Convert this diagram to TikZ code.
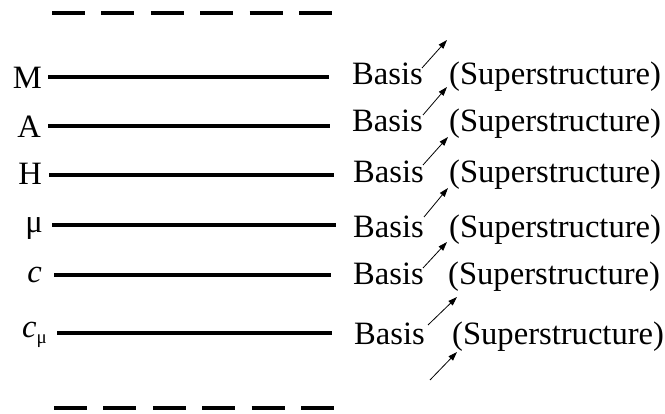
\documentclass[tikz,border=0pt]{standalone}
\usepackage{fontspec}
\setmainfont{Liberation Serif}
\usetikzlibrary{arrows.meta}
\tikzset{
  lvl/.style={line width=3.2pt},
  dsh/.style={line width=3.4pt, dash pattern=on 33pt off 16.4pt},
  txt/.style={inner sep=0pt, font=\fontsize{32.6}{36}\selectfont},
  lbl/.style={txt, anchor=base east},
  bas/.style={txt, anchor=base west},
  arr/.style={line width=0.8pt, -{Triangle[length=9pt,width=6pt]}}
}
\begin{document}
\begin{tikzpicture}[x=1pt,y=-1pt]
\useasboundingbox (0,0) rectangle (665,414);
% dashed lines
\coordinate (dt1) at (52,13); \coordinate (dt2) at (334,13);
\coordinate (db1) at (54,408); \coordinate (db2) at (336,408);
\draw[dsh] (dt1) -- (dt2);
\draw[dsh] (db1) -- (db2);
% labels
\node[lbl] (lM) at (42,89) {M};
\node[lbl] (lA) at (41,138) {A};
\node[lbl] (lH) at (42,185) {H};
\node[lbl] (lmu) at (43,233) {μ};
\node[lbl] (lc) at (42,283) {\textit{c}};
\node[lbl] (lcm) at (47,338) {\textit{c}\raisebox{-0.35ex}{\fontsize{19}{20}\selectfont μ}};
% level lines
\coordinate (eM) at (329,77);  \draw[lvl] (48,77) coordinate (sM) -- (eM);
\coordinate (eA) at (330,126); \draw[lvl] (48,126) coordinate (sA) -- (eA);
\coordinate (eH) at (334,175); \draw[lvl] (49,175) coordinate (sH) -- (eH);
\coordinate (emu) at (336,225); \draw[lvl] (52,225) coordinate (smu) -- (emu);
\coordinate (ec) at (331,275); \draw[lvl] (54,275) coordinate (sc) -- (ec);
\coordinate (ecm) at (332,333); \draw[lvl] (57,333) coordinate (scm) -- (ecm);
% Basis / Superstructure
\node[bas] (b1) at (352,85) {Basis};
\node[bas] (s1) at (449,85) {(Superstructure)};
\node[bas] (b2) at (352,132) {Basis};
\node[bas] (s2) at (449,132) {(Superstructure)};
\node[bas] (b3) at (353,183) {Basis};
\node[bas] (s3) at (449,183) {(Superstructure)};
\node[bas] (b4) at (353,238) {Basis};
\node[bas] (s4) at (449,238) {(Superstructure)};
\node[bas] (b5) at (353,285) {Basis};
\node[bas] (s5) at (448,285) {(Superstructure)};
\node[bas] (b6) at (354,345) {Basis};
\node[bas] (s6) at (452,345) {(Superstructure)};
% arrows
\coordinate (t1) at (422,68);  \coordinate (h1) at (447,40);
\coordinate (t2) at (423,115); \coordinate (h2) at (447,87);
\coordinate (t3) at (423,165); \coordinate (h3) at (448,137);
\coordinate (t4) at (424,217); \coordinate (h4) at (448,188);
\coordinate (t5) at (423,268); \coordinate (h5) at (447,242);
\coordinate (t6) at (428,325); \coordinate (h6) at (457,297);
\coordinate (t7) at (430,380); \coordinate (h7) at (457,352);
\foreach \i in {1,...,7} \draw[arr] (t\i) -- (h\i);
\end{tikzpicture}
\end{document}
